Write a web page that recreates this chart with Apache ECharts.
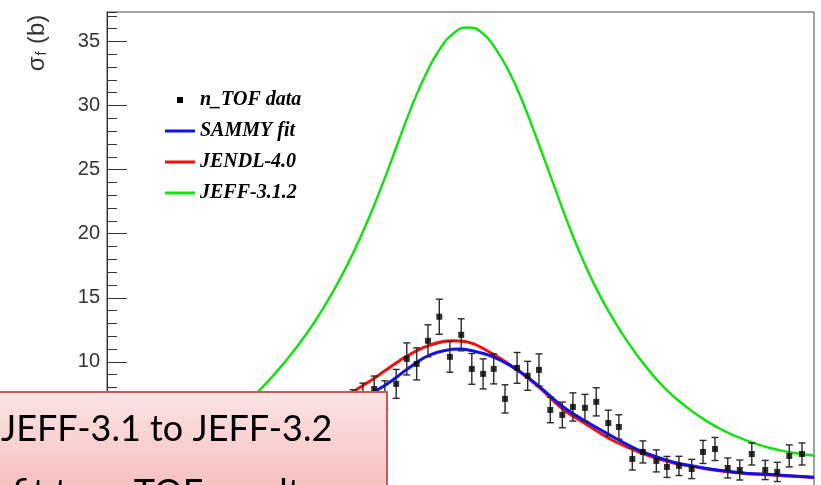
<!DOCTYPE html>
<html>
<head>
<meta charset="utf-8">
<script src="https://cdn.jsdelivr.net/npm/echarts@6/dist/echarts.min.js"></script>
<style>
  html, body { margin: 0; padding: 0; background: #fff; }
  #chart { width: 821px; height: 485px; }
</style>
</head>
<body>
<div id="chart"></div>
<script>
// Fission cross section around the resonance (energy on an arbitrary 0-100 scale)

// n_TOF measured points: energy, cross section (b), statistical error (b)
const tofEnergy = [34.8, 36.2, 37.8, 39.3, 40.9, 42.4, 43.8, 45.4, 47.0, 48.5,
                   50.1, 51.6, 53.2, 54.7, 56.3, 58.0, 59.5, 61.1, 62.7, 64.4,
                   65.9, 67.6, 69.2, 70.9, 72.4, 74.3, 75.8, 77.7, 79.2, 80.9,
                   82.7, 84.3, 86.0, 87.8, 89.5, 91.2, 93.1, 94.8, 96.5, 98.3];
const tofSigma  = [6.72, 7.19, 7.89, 7.42, 8.28, 10.23, 9.84, 11.64, 13.52, 10.39,
                   12.11, 9.45, 9.06, 9.45, 7.11, 9.53, 8.91, 9.37, 6.25, 5.86,
                   6.48, 6.41, 6.88, 5.23, 4.92, 2.42, 2.97, 2.27, 1.80, 1.88,
                   1.64, 2.97, 3.20, 1.72, 1.56, 2.81, 1.56, 1.41, 2.66, 2.81];
const tofError  = [1.10, 1.15, 1.00, 1.10, 1.13, 1.25, 1.25, 1.25, 1.37, 1.20,
                   1.25, 1.20, 1.17, 1.17, 1.10, 1.20, 1.13, 1.25, 1.00, 1.00,
                   1.10, 1.05, 1.10, 1.00, 0.95, 0.86, 0.86, 0.86, 0.82, 0.75,
                   0.75, 0.90, 0.90, 0.78, 0.78, 0.86, 0.75, 0.75, 0.86, 0.86];

// SAMMY fit
const sammyEnergy = [35.8, 37.6, 39.0, 40.7, 42.4, 45.7, 49.9, 51.3, 54.6, 58.0, 61.2, 64.5,
                     67.9, 71.1, 73.6, 75.8, 78.2, 80.6, 82.9, 85.3, 90.0, 94.8, 100];
const sammySigma  = [6.9, 7.6, 8.05, 8.7, 9.4, 10.55, 11.0, 10.9, 10.39, 9.38, 8.05, 6.5,
                     5.3, 4.3, 3.55, 2.97, 2.5, 2.11, 1.88, 1.64, 1.33, 1.17, 1.0];

// JENDL-4.0 evaluation
const jendlEnergy = [33.0, 34.8, 36.2, 37.6, 39.3, 41.0, 42.4, 45.4, 48.9, 51.3, 54.6, 58.0, 61.2,
                     64.5, 67.9, 71.1, 73.6, 75.8, 78.2, 80.6, 82.9, 85.3, 90.0, 94.8, 100];
const jendlSigma  = [7.0, 7.66, 8.15, 8.65, 9.3, 9.95, 10.45, 11.25, 11.64, 11.5, 10.6, 9.38, 7.97,
                     6.3, 5.1, 4.0, 3.35, 2.85, 2.4, 2.05, 1.84, 1.6, 1.3, 1.14, 0.98];

// JEFF-3.1.2 evaluation
const jeffEnergy = [0, 5, 10, 13, 15, 17, 19, 21, 23, 25, 27, 29, 31, 33, 35, 37, 39, 41, 43, 45,
                    47, 49, 51, 53, 55, 57, 59, 61, 63, 65, 67, 69, 71, 73, 75, 77, 79, 81, 83,
                    85, 87, 89, 91, 93, 95, 97, 99, 100];
const jeffSigma  = [2.4, 2.8, 3.5, 4.15, 4.7, 5.35, 6.38, 7.47, 8.62, 9.88, 11.27, 12.82, 14.56,
                    16.51, 18.7, 21.16, 23.91, 26.86, 29.78, 32.33, 34.33, 35.63, 36.1, 35.7,
                    34.4, 32.5, 30.0, 27.1, 24.1, 21.1, 18.35, 15.95, 13.9, 12.1, 10.5, 9.1,
                    7.9, 6.9, 6.05, 5.32, 4.7, 4.18, 3.75, 3.4, 3.12, 2.9, 2.75, 2.7];

// Axis ranges and tick steps
const yMin = 0, yMax = 37.3, yMajorStep = 5, yMinorStep = 1;
const xMin = 0, xMax = 100;

// Legend entries
const legendNames = ['n_TOF data', 'SAMMY fit', 'JENDL-4.0', 'JEFF-3.1.2'];

// Overlay note
const noteLines = ['JEFF-3.1 to JEFF-3.2', 'fit to n_TOF results'];

const pairs = (xs, ys) => xs.map((x, i) => [x, ys[i]]);
const tofRows = tofEnergy.map((x, i) => [x, tofSigma[i], tofError[i]]);

const axisColor = '#333';
const lineIcon = 'path://M0,0H30V3H0Z';
const chart = echarts.init(document.getElementById('chart'), null, { renderer: 'canvas' });

chart.setOption({
  animation: false,
  backgroundColor: '#ffffff',
  grid: {
    left: 107, right: 7, top: 12, bottom: -5,
    show: true, borderColor: '#444', borderWidth: 1, backgroundColor: 'transparent',
    outerBoundsMode: 'none', containLabel: false
  },
  xAxis: {
    type: 'value', min: xMin, max: xMax,
    axisLine: { show: false }, axisTick: { show: false },
    axisLabel: { show: false }, splitLine: { show: false }
  },
  yAxis: [
    {
      type: 'value', min: yMin, max: yMax, interval: yMajorStep, position: 'left',
      axisLine: { show: true, lineStyle: { color: axisColor, width: 1 } },
      axisTick: { show: true, inside: true, length: 20, lineStyle: { color: axisColor, width: 1 } },
      axisLabel: {
        show: true, showMaxLabel: false, margin: 7,
        fontFamily: 'Liberation Sans, Arial, sans-serif', fontSize: 20, color: axisColor
      },
      splitLine: { show: false }
    },
    {
      // minor ticks, one per barn
      type: 'value', min: yMin, max: yMax, interval: yMinorStep, position: 'left',
      axisLine: { show: false },
      axisTick: { show: true, inside: true, length: 10, lineStyle: { color: axisColor, width: 1 } },
      axisLabel: { show: false },
      splitLine: { show: false }
    }
  ],
  legend: {
    orient: 'vertical', left: 160, top: 85, padding: 5,
    itemWidth: 30, itemHeight: 6, itemGap: 11,
    selectedMode: false,
    textStyle: {
      fontFamily: 'Liberation Serif, Times New Roman, serif',
      fontStyle: 'italic', fontWeight: 'bold', fontSize: 20, lineHeight: 20, color: '#000'
    },
    data: [
      { name: legendNames[0], icon: 'path://M0,0H10V10H0Z', itemStyle: { color: '#000' } },
      { name: legendNames[1], icon: lineIcon },
      { name: legendNames[2], icon: lineIcon },
      { name: legendNames[3], icon: lineIcon }
    ]
  },
  series: [
    {
      name: legendNames[3], type: 'line', data: pairs(jeffEnergy, jeffSigma),
      smooth: 0.5, symbol: 'none', showSymbol: false,
      lineStyle: { color: '#14e014', width: 2.5 }, itemStyle: { color: '#14e014' }, z: 2
    },
    {
      name: legendNames[2], type: 'line', data: pairs(jendlEnergy, jendlSigma),
      smooth: 0.4, symbol: 'none', showSymbol: false,
      lineStyle: { color: '#f01010', width: 3 }, itemStyle: { color: '#f01010' }, z: 3
    },
    {
      name: legendNames[1], type: 'line', data: pairs(sammyEnergy, sammySigma),
      smooth: 0.4, symbol: 'none', showSymbol: false,
      lineStyle: { color: '#1010ee', width: 3 }, itemStyle: { color: '#1010ee' }, z: 4
    },
    {
      name: legendNames[0], type: 'custom', data: tofRows, z: 5,
      encode: { x: 0, y: 1 },
      renderItem: function (params, api) {
        const x = api.value(0), y = api.value(1), e = api.value(2);
        const top = api.coord([x, y + e]);
        const bot = api.coord([x, y - e]);
        const cap = 3.5;
        const st = { stroke: '#2a2a2a', lineWidth: 1.4 };
        return {
          type: 'group',
          children: [
            { type: 'line', shape: { x1: top[0], y1: top[1], x2: bot[0], y2: bot[1] }, style: st },
            { type: 'line', shape: { x1: top[0] - cap, y1: top[1], x2: top[0] + cap, y2: top[1] }, style: st },
            { type: 'line', shape: { x1: bot[0] - cap, y1: bot[1], x2: bot[0] + cap, y2: bot[1] }, style: st }
          ]
        };
      }
    },
    {
      name: legendNames[0], type: 'scatter', data: pairs(tofEnergy, tofSigma),
      symbol: 'rect', symbolSize: 6, itemStyle: { color: '#000' }, z: 6
    }
  ],
  graphic: [
    {
      type: 'text', x: 37, y: 43, rotation: Math.PI / 2, z: 50,
      style: {
        text: '{s|σ}{f|f}{s| (b)}',
        align: 'center', verticalAlign: 'middle',
        fill: '#333',
        rich: {
          s: { fontFamily: 'Liberation Sans, Arial, sans-serif', fontSize: 24, lineHeight: 24, verticalAlign: 'top', fill: '#333' },
          f: { fontFamily: 'Liberation Sans, Arial, sans-serif', fontSize: 14, lineHeight: 14, padding: [20, 1, 0, 1], verticalAlign: 'bottom', fill: '#333' }
        }
      }
    },
    {
      type: 'rect', z: 100,
      shape: { x: -20, y: 392, width: 407, height: 130 },
      style: {
        fill: {
          type: 'linear', x: 0, y: 0, x2: 0, y2: 1,
          colorStops: [{ offset: 0, color: '#fde4e4' }, { offset: 1, color: '#f4b3b3' }]
        },
        stroke: '#c55a5a', lineWidth: 2
      }
    },
    {
      type: 'text', x: 1, y: 429, z: 101,
      style: { text: noteLines[0], fontFamily: 'Lato, sans-serif', fontSize: 36, fill: '#000', verticalAlign: 'middle' }
    },
    {
      type: 'text', x: 12, y: 493, z: 101,
      style: { text: noteLines[1], fontFamily: 'Lato, sans-serif', fontSize: 36, fill: '#000', verticalAlign: 'middle' }
    }
  ]
});
</script>
</body>
</html>
